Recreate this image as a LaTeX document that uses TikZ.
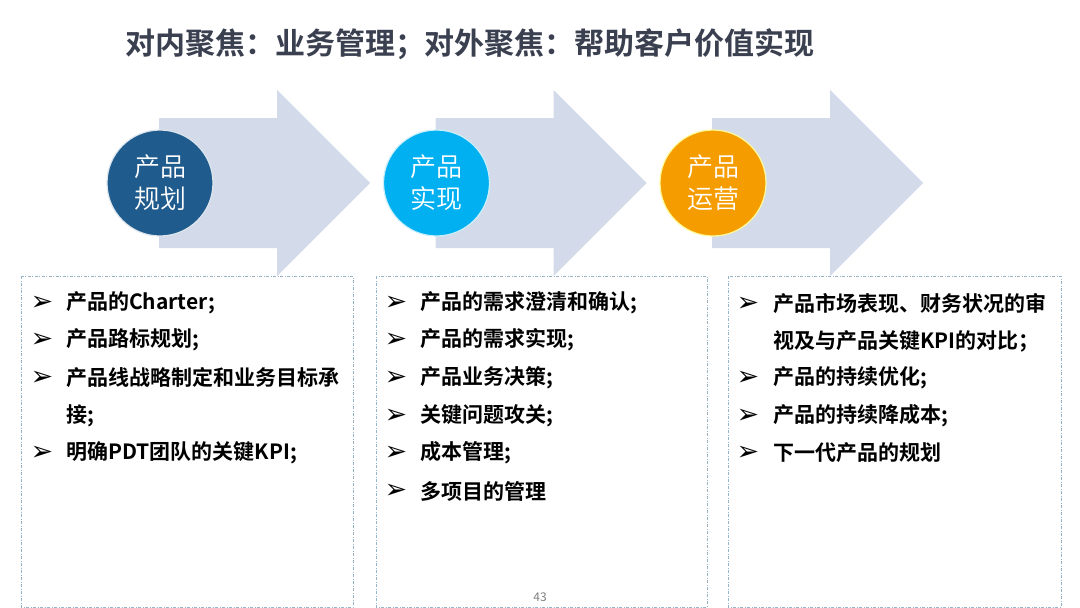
\documentclass[tikz,border=0pt]{standalone}
\usepackage{fontspec}
\setmainfont{Noto Sans CJK SC}
\newfontfamily\cjkbold{Noto Sans CJK SC Bold}
\newfontfamily\cjklight{Noto Sans CJK SC DemiLight}
\newfontfamily\dejavu{DejaVu Sans}
\definecolor{arrowc}{RGB}{211,219,234}
\definecolor{darkblue}{RGB}{31,91,140}
\definecolor{lightblue}{RGB}{0,176,240}
\definecolor{orangec}{RGB}{245,157,0}
\definecolor{titlec}{RGB}{58,64,80}
\definecolor{boxc}{RGB}{150,180,200}
\begin{document}
\begin{tikzpicture}[x=1pt,y=-1pt,
  stage/.style={circle,minimum size=106pt,inner sep=0pt,text=white,
    font=\cjklight\fontsize{26}{32}\selectfont,align=center,line width=1.2pt},
  itembox/.style={draw=boxc,line width=0.8pt,
    dash pattern=on 3pt off 1.5pt on 1pt off 1.5pt},
  bul/.style={font=\dejavu\fontsize{27}{27}\selectfont,text=black,inner sep=0pt},
  item/.style={anchor=west,font=\cjkbold\fontsize{21}{25}\selectfont,text=black,inner sep=0pt}]
\useasboundingbox (0,0) rectangle (1080,608);
\fill[white] (0,0) rectangle (1080,608);
% title
\node[font=\cjkbold\fontsize{30}{35}\selectfont,text=titlec] (title) at (470,44) {对内聚焦：业务管理；对外聚焦：帮助客户价值实现};
% arrows
\foreach \dx [count=\i] in {0,276.5,553} {
  \fill[arrowc] (159+\dx,118) -- (277+\dx,118) -- (277+\dx,90) -- (370+\dx,183)
    -- (277+\dx,276) -- (277+\dx,248) -- (159+\dx,248) -- cycle;
}
% circles
\node[stage,fill=darkblue,draw=white!85!darkblue] (c1) at (160,183) {产品\\规划};
\node[stage,fill=lightblue,draw=white!80!lightblue] (c2) at (436.5,183) {产品\\实现};
\node[stage,fill=orangec,draw=yellow!40!white] (c3) at (713,183) {产品\\运营};
% boxes
\draw[itembox] (21,276) rectangle (353,607);
\draw[itembox] (376,276) rectangle (707,607);
\draw[itembox] (728,276) rectangle (1061,607);
% box 1
\node[bul] (b11) at (42,303) {➢};
\node[item] (t11) at (66,303) {产品的Charter;};
\node[bul] (b12) at (42,340) {➢};
\node[item] (t12) at (66,340) {产品路标规划;};
\node[bul] (b13) at (42,378) {➢};
\node[item] (t13) at (66,378) {产品线战略制定和业务目标承};
\node[item] (t13b) at (66,416) {接;};
\node[bul] (b14) at (42,453) {➢};
\node[item] (t14) at (66,453) {明确PDT团队的关键KPI;};
% box 2
\node[bul] (b21) at (396,303) {➢};
\node[item] (t21) at (420,303) {产品的需求澄清和确认;};
\node[bul] (b22) at (396,340) {➢};
\node[item] (t22) at (420,340) {产品的需求实现;};
\node[bul] (b23) at (396,378) {➢};
\node[item] (t23) at (420,378) {产品业务决策;};
\node[bul] (b24) at (396,416) {➢};
\node[item] (t24) at (420,416) {关键问题攻关;};
\node[bul] (b25) at (396,453) {➢};
\node[item] (t25) at (420,453) {成本管理;};
\node[bul] (b26) at (396,491) {➢};
\node[item] (t26) at (420,491) {多项目的管理};
\node[font=\fontsize{12}{12}\selectfont,text=gray] (pg) at (540,597) {43};
% box 3
\node[bul] (b31) at (748,304) {➢};
\node[item] (t31) at (773,304) {产品市场表现、财务状况的审};
\node[item] (t31b) at (773,341) {视及与产品关键KPI的对比；};
\node[bul] (b32) at (748,378) {➢};
\node[item] (t32) at (773,378) {产品的持续优化;};
\node[bul] (b33) at (748,416) {➢};
\node[item] (t33) at (773,416) {产品的持续降成本;};
\node[bul] (b34) at (748,453) {➢};
\node[item] (t34) at (773,453) {下一代产品的规划};
\end{tikzpicture}
\end{document}
